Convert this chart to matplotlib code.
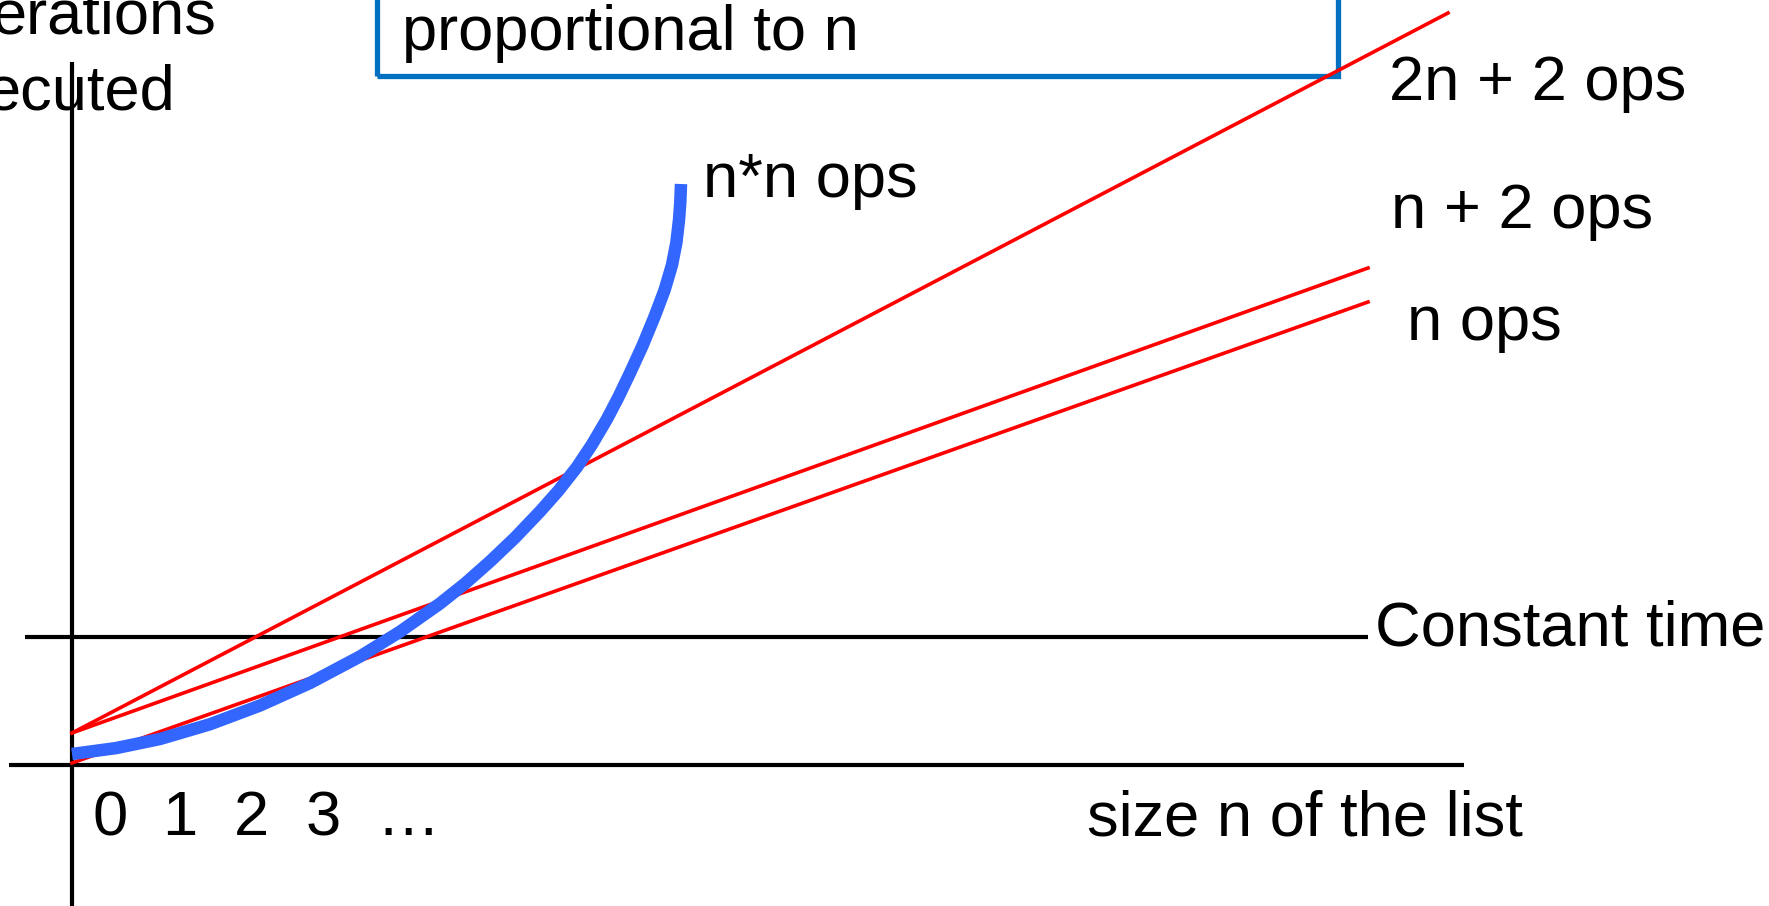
import matplotlib.pyplot as plt
from matplotlib.patches import Rectangle

# units: x to the right of the vertical axis, y above the horizontal axis
lin_x = [0, 1296]
n_ops = [2, 463]
n2_ops = [32, 497]
dbl_x = [0, 1376]
dbl_ops = [32, 752]

# n*n curve
sq_x = [0, 44, 88, 138, 188, 238, 288, 328, 368, 393, 418, 443, 468, 486.5,
        505, 520, 535, 546.5, 558, 570.5, 583, 592.6, 600, 604.4, 607, 608.3, 609]
sq_y = [11, 16.9, 26, 40.75, 59.5, 82, 108.5, 133.3, 161.5, 181.4, 203.5, 227.3, 253.5, 274.4,
        298, 320.5, 346, 368, 392, 419.2, 449.5, 475, 500, 522.5, 545, 563, 581]

const_y = 128
tick_labels = ['0', '1', '2', '3', '…']
tick_x = [38, 108, 179, 251, 336]

plt.rcParams['font.family'] = ['Liberation Sans', 'DejaVu Sans']
fs = 45.5

fig = plt.figure(figsize=(17.69, 9.06), dpi=100)
ax = fig.add_axes([0, 0, 1, 1])
ax.set_xlim(-72, 1697)
ax.set_ylim(-141, 765)
ax.axis('off')

# axes and constant line
ax.plot([-63, 1392], [0, 0], color='black', lw=3.0, solid_capstyle='butt')
ax.plot([0, 0], [-141, 703], color='black', lw=3.0, solid_capstyle='butt')
ax.plot([-47, 1296], [const_y, const_y], color='black', lw=3.0, solid_capstyle='butt')

ax.plot(lin_x, n_ops, color='#FF0000', lw=2.6)
ax.plot(lin_x, n2_ops, color='#FF0000', lw=2.6)
ax.plot(dbl_x, dbl_ops, color='#FF0000', lw=2.6)

ax.plot(sq_x, sq_y, color='#3366FF', lw=9.0, solid_capstyle='butt', solid_joinstyle='round')

# box at the top (cut off by the frame)
ax.add_patch(Rectangle((305, 689), 961, 200, fill=False, edgecolor='#0070C0', lw=3.8))

ax.text(330, 715, 'proportional to n', fontsize=fs, va='baseline')
ax.text(-81, 732, 'erations', fontsize=fs, va='baseline')
ax.text(-87, 655, 'ecuted', fontsize=fs, va='baseline')
ax.text(631, 568, 'n*n ops', fontsize=fs, va='baseline')
ax.text(1317, 665, '2n + 2 ops', fontsize=fs, va='baseline')
ax.text(1319, 537, 'n + 2 ops', fontsize=fs, va='baseline')
ax.text(1335, 425, 'n ops', fontsize=fs, va='baseline')
ax.text(1303, 120, 'Constant time', fontsize=fs, va='baseline')
ax.text(1015, -70, 'size n of the list', fontsize=fs, va='baseline')

for lab, xx in zip(tick_labels, tick_x):
    ax.text(xx, -70, lab, fontsize=fs, ha='center', va='baseline')

fig.savefig('out.png', dpi=100)
